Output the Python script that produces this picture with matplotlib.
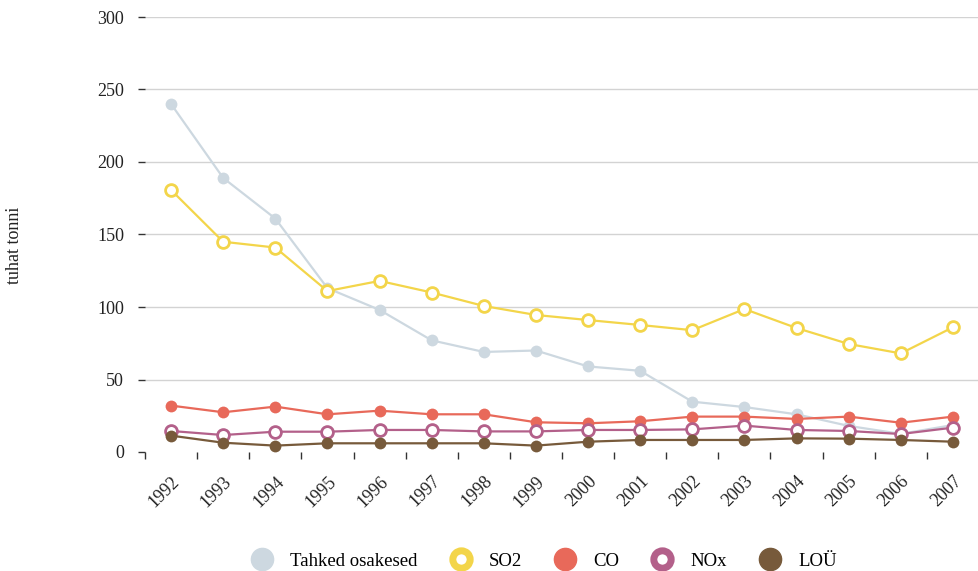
import matplotlib
matplotlib.use("Agg")
import matplotlib.pyplot as plt
from matplotlib.lines import Line2D
import numpy as np

plt.rcParams['font.family'] = ['Liberation Serif', 'DejaVu Serif']

# aastad ja heitkogused (tuhat tonni)
years = ['1992', '1993', '1994', '1995', '1996', '1997', '1998', '1999',
         '2000', '2001', '2002', '2003', '2004', '2005', '2006', '2007']
tahked = [240, 189, 161, 113, 98, 77, 69, 70, 59, 56, 34.7, 31, 26, 18, 12.5, 18.6]
so2 = [180.7, 145, 141, 111, 118, 110, 100.7, 94.5, 91, 87.6, 84, 98.6, 85.5, 74.5, 68, 86]
co = [32, 27.4, 31.3, 26, 28.5, 26, 26, 20.5, 19.8, 21.2, 24.4, 24.4, 22.8, 24.4, 20.2, 24.4]
nox = [14.5, 11.7, 14, 14, 15.2, 15.2, 14.2, 14.2, 15.2, 15.2, 15.6, 18.2, 15.2, 14.5, 12.4, 16.8]
lou = [11.3, 6.4, 4.4, 6, 6, 6, 6, 4.4, 7.1, 8.3, 8.3, 8.3, 9.4, 9.2, 8.3, 7.1]

series = [
    ('Tahked osakesed', tahked, '#cdd8e0', False),
    ('SO2', so2, '#f3d54a', True),
    ('CO', co, '#e8695a', False),
    ('NOx', nox, '#b3608a', True),
    ('LOÜ', lou, '#775a3b', False),
]

fig = plt.figure(figsize=(9.79, 5.71), dpi=100)
ax = fig.add_axes([145 / 979, 119 / 571, 834 / 979, 435 / 571])

x = np.arange(len(years))
for name, vals, col, hollow in series:
    face = 'white' if hollow else col
    ax.plot(x, vals, color=col, lw=1.6, marker='o', ms=8.5,
            mfc=face, mec=col, mew=2.0 if hollow else 0.0, zorder=3)

ax.set_xlim(-0.5, len(years) - 0.5)
ax.set_ylim(0, 300)

# y-telg
ax.set_yticks([0, 50, 100, 150, 200, 250, 300])
ax.tick_params(axis='y', length=5, width=1, color='#333333', labelsize=13,
               pad=10, labelcolor='#222222')
for yv in [50, 100, 150, 200, 250, 300]:
    ax.axhline(yv, color='#d3d3d3', lw=1, zorder=1)

# x-telg: sildid keskel, kriipsud piiridel
ax.set_xticks(x)
ax.set_xticklabels(years, rotation=45, ha='right', va='top',
                   rotation_mode='anchor', fontsize=13, color='#222222')
ax.tick_params(axis='x', length=0, pad=15)
ax.set_xticks(np.arange(-0.5, len(years) - 0.5, 1), minor=True)
ax.tick_params(axis='x', which='minor', length=5, width=1, color='#333333')

for s in ax.spines.values():
    s.set_visible(False)

fig.text(15 / 979, 1 - 245 / 571, 'tuhat tonni', rotation=90,
         ha='center', va='center', fontsize=13, color='#222222')

handles = []
for name, vals, col, hollow in series:
    if hollow:
        h = Line2D([], [], ls='none', marker='o', ms=12.5, mfc='white',
                   mec=col, mew=5)
    else:
        h = Line2D([], [], ls='none', marker='o', ms=16, mfc=col, mec=col)
    handles.append(h)
fig.legend(handles, [s[0] for s in series], loc='center',
           bbox_to_anchor=(540 / 979, 1 - 561 / 571), ncol=5, frameon=False,
           fontsize=13.5, handletextpad=0.5, columnspacing=1.3,
           borderaxespad=0)

fig.savefig('out.png', dpi=100)
